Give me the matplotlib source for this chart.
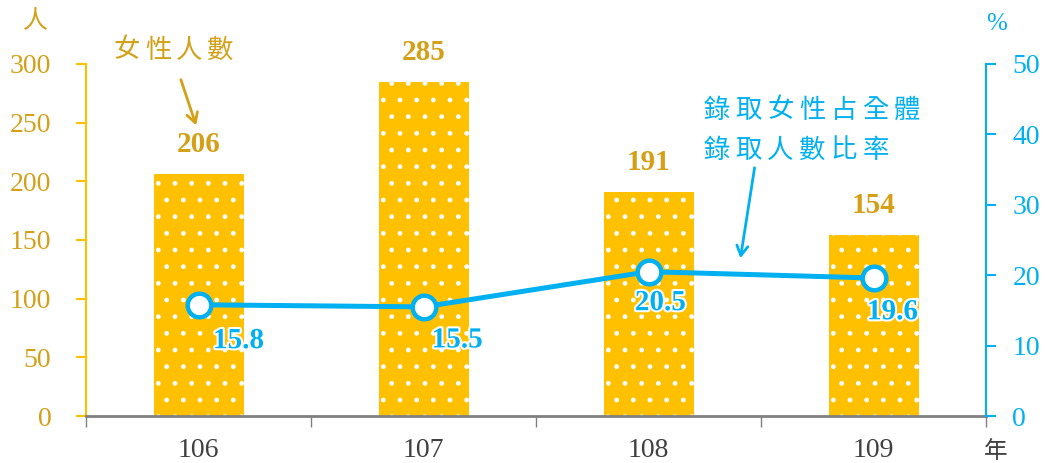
import matplotlib
matplotlib.use('Agg')
import matplotlib.pyplot as plt
import matplotlib.patheffects as pe
from matplotlib.patches import FancyArrowPatch

years = ['106', '107', '108', '109']
female_count = [206, 285, 191, 154]
female_ratio = [15.8, 15.5, 20.5, 19.6]

gold = '#FFC000'
gold_text = '#D4A017'
blue = '#00B0F0'
serif = ['Liberation Serif', 'DejaVu Serif']
cjk = ['Noto Sans CJK TC', 'DejaVu Sans']

W, H = 1045, 463

fig = plt.figure(figsize=(W / 100, H / 100), dpi=100)
ax = fig.add_axes([86 / W, 47 / H, 900 / W, 352 / H])
ax2 = ax.twinx()


def px(x, y):
    # pixel position (from top left) to figure fraction
    return x / W, 1 - y / H


def spaced_text(s, x0, y, pitch, **kw):
    # CJK text with the wide letter spacing of the original
    for i, ch in enumerate(s):
        fig.text(*px(x0 + i * pitch, y), ch, ha='center', va='center',
                 family=cjk, **kw)


x = list(range(len(years)))
ax.bar(x, female_count, width=0.4, color=gold, edgecolor='white',
       linewidth=0, hatch='.', zorder=2)
for xi, v in zip(x, female_count):
    ax.text(xi, v + 25, str(v), ha='center', va='center', fontsize=21,
            fontweight='bold', color=gold_text, family=serif)

ax.set_xlim(-0.5, len(years) - 0.5)
ax.set_ylim(0, 300)
ax.set_yticks(range(0, 301, 50))
ax.set_xticks([i - 0.5 for i in range(len(years) + 1)])
ax.set_xticklabels([])
ax.set_xticks(x, minor=True)
ax.set_xticklabels(years, minor=True, family=serif, fontsize=20, color='#404040')
ax.tick_params(axis='x', which='minor', length=0, pad=16)
ax.tick_params(axis='x', which='major', length=8, color='#808080', width=1)
ax.tick_params(axis='y', colors=gold, labelcolor=gold_text, length=7, width=1.5,
               labelsize=20, pad=18)
for lab in ax.get_yticklabels():
    lab.set_family(serif)

for s in ['top', 'right']:
    ax.spines[s].set_visible(False)
ax.spines['left'].set_color(gold)
ax.spines['left'].set_linewidth(1.5)
ax.spines['bottom'].set_color('#808080')
ax.spines['bottom'].set_linewidth(2)
ax.spines['bottom'].set_zorder(3)

ax2.plot(x, female_ratio, color=blue, linewidth=3.6, marker='o', markersize=17,
         markerfacecolor='white', markeredgecolor=blue, markeredgewidth=3.2,
         zorder=4)
offsets = [(0.178, -5.1), (0.15, -4.7), (0.053, -4.4), (0.084, -4.8)]
for xi, v, (dx, dy) in zip(x, female_ratio, offsets):
    ax2.text(xi + dx, v + dy, str(v), ha='center', va='center', fontsize=21,
             fontweight='bold', color=blue, family=serif,
             path_effects=[pe.withStroke(linewidth=3, foreground='white')])
ax2.set_ylim(0, 50)
ax2.set_yticks(range(0, 51, 10))
ax2.tick_params(axis='y', colors=blue, labelcolor=blue, length=7, width=1.5,
                labelsize=20, pad=12)
for lab in ax2.get_yticklabels():
    lab.set_family(serif)
for s in ['top', 'left', 'bottom']:
    ax2.spines[s].set_visible(False)
ax2.spines['right'].set_color(blue)
ax2.spines['right'].set_linewidth(1.5)

fig.text(*px(35, 21), '人', ha='center', va='center', fontsize=18,
         color=gold_text, family=cjk)
fig.text(*px(997, 24), '%', ha='center', va='center', fontsize=18,
         color=blue, family=serif)
fig.text(*px(996, 451), '年', ha='center', va='center', fontsize=17,
         color='#404040', family=cjk)

spaced_text('女性人數', 127, 50, 31, fontsize=19, color=gold_text)
fig.patches.append(FancyArrowPatch(
    px(180, 77), px(197, 128), transform=fig.transFigure,
    arrowstyle='->,head_length=7,head_width=4', color=gold_text, linewidth=2))

spaced_text('錄取女性占全體', 717, 110, 31.7, fontsize=19, color=blue)
spaced_text('錄取人數比率', 717, 150, 31.7, fontsize=19, color=blue)
fig.patches.append(FancyArrowPatch(
    px(755, 165), px(740, 261), transform=fig.transFigure,
    arrowstyle='->,head_length=7,head_width=4', color=blue, linewidth=2))

fig.savefig('out.png', dpi=100)
